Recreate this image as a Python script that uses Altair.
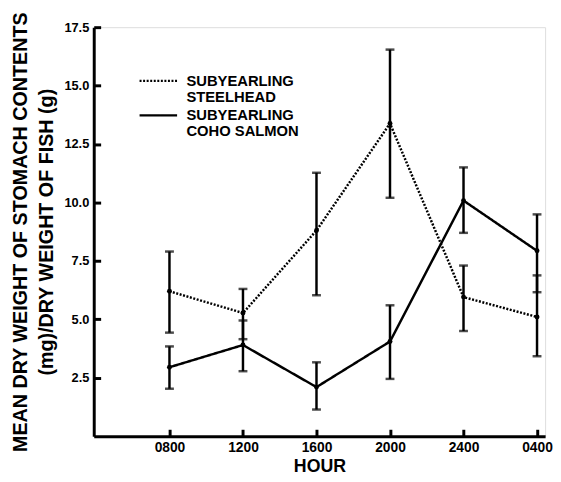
import altair as alt
import pandas as pd

# ---- data ----
hours = ["0800", "1200", "1600", "2000", "2400", "0400"]
series = ["SUBYEARLING STEELHEAD", "SUBYEARLING COHO SALMON"]

steel_mean = [6.2, 5.27, 8.8, 13.38, 5.95, 5.1]
steel_lo = [4.43, 4.15, 6.03, 10.2, 4.5, 3.42]
steel_hi = [7.9, 6.3, 11.27, 16.54, 7.3, 6.88]

coho_mean = [2.95, 3.9, 2.1, 4.05, 10.08, 7.93]
coho_lo = [2.03, 2.78, 1.14, 2.45, 8.7, 6.16]
coho_hi = [3.84, 4.95, 3.16, 5.6, 11.5, 9.49]

y_ticks = [2.5, 5.0, 7.5, 10.0, 12.5, 15.0, 17.5]

rows = []
for name, m, lo, hi in [(series[0], steel_mean, steel_lo, steel_hi),
                        (series[1], coho_mean, coho_lo, coho_hi)]:
    for i, h in enumerate(hours):
        rows.append({"idx": i + 1, "hour": h, "species": name,
                     "mean": m[i], "lo": lo[i], "hi": hi[i]})
df = pd.DataFrame(rows)

FONT = "Liberation Sans"
label_expr = "[" + ",".join("'%s'" % h for h in hours) + "][datum.value - 1]"
idx_values = list(range(1, len(hours) + 1))

xscale = alt.Scale(domain=[-0.03, 6.11], nice=False, zero=False)
yscale = alt.Scale(domain=[0, 17.5], nice=False, zero=True)

x_main_axis = alt.Axis(orient="bottom", values=idx_values, labelExpr=label_expr,
                       title="HOUR", domain=True, domainWidth=3, domainColor="black",
                       ticks=False, labelPadding=5, labelFont=FONT, labelFontWeight="bold",
                       labelFontSize=14, labelColor="black", titleFont=FONT,
                       titleFontWeight="bold", titleFontSize=18, titleColor="black",
                       titlePadding=3, grid=False)
y_main_axis = alt.Axis(orient="left", values=y_ticks, format=".1f",
                       title=["MEAN DRY WEIGHT OF STOMACH CONTENTS", "(mg)/DRY WEIGHT OF FISH (g)"],
                       domain=True, domainWidth=3, domainColor="black", ticks=False,
                       labelPadding=5, labelFont=FONT, labelFontWeight="bold", labelFontSize=13,
                       labelColor="black", titleFont=FONT, titleFontWeight="bold",
                       titleFontSize=20, titleLineHeight=26, titleColor="black",
                       titlePadding=8, grid=False)
x_tick_axis = alt.Axis(orient="bottom", values=idx_values, offset=-7, domain=False,
                       ticks=True, tickSize=7, tickWidth=3, tickColor="black",
                       labels=False, title=None, grid=False)
y_tick_axis = alt.Axis(orient="left", values=y_ticks, offset=-7, domain=False,
                       ticks=True, tickSize=7, tickWidth=3, tickColor="black",
                       labels=False, title=None, grid=False)

base = alt.Chart(df)

lines = base.mark_line(color="black", strokeWidth=2.5).encode(
    x=alt.X("idx:Q", scale=xscale, axis=x_main_axis),
    y=alt.Y("mean:Q", scale=yscale, axis=y_main_axis),
    strokeDash=alt.StrokeDash(
        "species:N",
        scale=alt.Scale(domain=series, range=[[2, 1.6], [1, 0]]),
        legend=alt.Legend(orient="none", legendX=39, legendY=47, title=None,
                          symbolType="M 0 0 H 10", symbolSize=58, symbolStrokeWidth=2.5,
                          symbolStrokeColor="black", labelFont=FONT,
                          labelFontWeight="bold", labelFontSize=15, labelColor="black",
                          labelLimit=0, labelOffset=40, rowPadding=3, padding=0,
                          labelExpr="[slice(datum.label, 0, 11), slice(datum.label, 12)]"),
    ),
    detail="species:N",
)

bars = base.mark_rule(color="black", strokeWidth=2.5).encode(
    x=alt.X("idx:Q", scale=xscale, axis=x_tick_axis),
    y=alt.Y("lo:Q", scale=yscale, axis=y_tick_axis),
    y2="hi:Q",
)

caps_lo = base.mark_tick(color="black", orient="horizontal", size=9, thickness=2.5).encode(
    x=alt.X("idx:Q", scale=xscale, axis=None),
    y=alt.Y("lo:Q", scale=yscale, axis=None),
)
caps_hi = base.mark_tick(color="black", orient="horizontal", size=9, thickness=2.5).encode(
    x=alt.X("idx:Q", scale=xscale, axis=None),
    y=alt.Y("hi:Q", scale=yscale, axis=None),
)
points = base.mark_point(color="black", filled=True, size=25, opacity=1).encode(
    x=alt.X("idx:Q", scale=xscale, axis=None),
    y=alt.Y("mean:Q", scale=yscale, axis=None),
)

chart = alt.layer(lines, bars, caps_lo, caps_hi, points).resolve_axis(
    x="independent", y="independent"
).properties(
    width=458, height=415,
    padding={"left": 2, "top": 0, "right": 0, "bottom": 0},
).configure_view(stroke=None).configure(
    background="white", style={"guide-label": {"lineHeight": 16}}
)

chart.save("out.html", embed_options={"renderer": "svg", "actions": False})
